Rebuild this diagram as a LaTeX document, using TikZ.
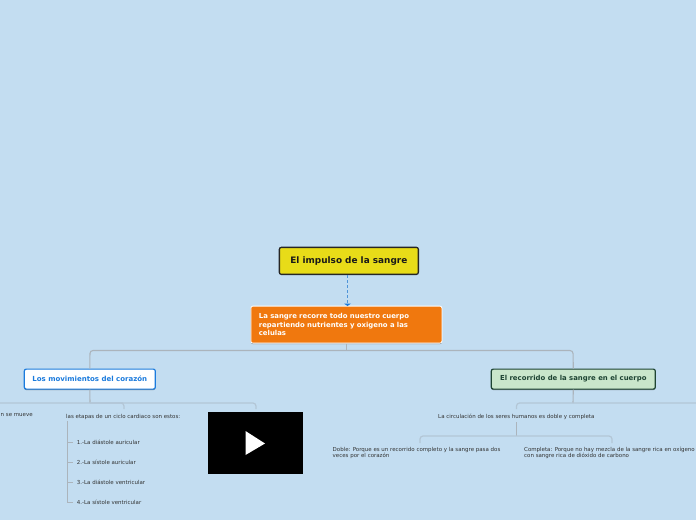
\documentclass[tikz,border=0pt]{standalone}
\usepackage{fontspec}
\setmainfont{DejaVu Sans}
\usetikzlibrary{shadows}
\definecolor{bgc}{HTML}{C3DDF1}
\definecolor{yel}{HTML}{E8DC18}
\definecolor{ora}{HTML}{F0780E}
\definecolor{blu}{HTML}{1B7BDD}
\definecolor{dashblue}{HTML}{4F94D8}
\definecolor{gre}{HTML}{C9E6CB}
\definecolor{dgre}{HTML}{1E4433}
\definecolor{lin}{HTML}{ABB4BC}
\definecolor{lin2}{HTML}{B3C6D6}
\definecolor{txt}{HTML}{333333}
\tikzset{
  box/.style={rounded corners=2pt,inner sep=0pt,anchor=north west,align=center},
  soft/.style={drop shadow={shadow xshift=0pt,shadow yshift=-1pt,opacity=.4,fill=black}},
  rootbox/.style={box,draw=black!85,line width=1.3pt,fill=yel,font=\fontsize{8.9}{10}\selectfont\bfseries,text=black!90},
  mainbox/.style={box,draw=white,line width=.8pt,fill=ora,soft,font=\fontsize{6.9}{8.6}\selectfont\bfseries,text=white},
  leftbox/.style={box,draw=blu,line width=1.2pt,fill=white,soft,font=\fontsize{7}{8}\selectfont\bfseries,text=blu},
  rightbox/.style={box,draw=dgre,line width=1.2pt,fill=gre,soft,font=\fontsize{6.9}{8}\selectfont\bfseries,text=dgre},
  small/.style={inner sep=0pt,anchor=west,align=left,text=txt,font=\fontsize{5.48}{6.2}\selectfont},
  thick link/.style={draw=lin,line width=1.1pt,rounded corners=3pt},
  soft link/.style={draw=lin2,line width=1.2pt,rounded corners=3pt},
  list link/.style={draw=lin,line width=.7pt},
  tick link/.style={draw=lin,line width=.5pt}
}
\begin{document}
\begin{tikzpicture}[x=1pt,y=-1pt]
\useasboundingbox (0,0) rectangle (696,520);
\fill[bgc] (0,0) rectangle (696,520);
% junctions
\coordinate (j0) at (346.5,350.5);
\coordinate (jl) at (90,403);
\coordinate (jr) at (573,403);
\coordinate (jc) at (516.5,436);
\coordinate (offl) at (0,403);
\coordinate (offr) at (696,403);
% nodes
\node[rootbox,minimum width=139pt,minimum height=27pt] (root) at (278.7,246.7) {\raisebox{-1.6pt}{El impulso de la sangre}};
\node[mainbox,minimum width=191pt,minimum height=37pt,align=left,text width=175pt] (main) at (250.5,305.7) {La sangre recorre todo nuestro cuerpo\\repartiendo nutrientes y oxigeno a las\\celulas};
\node[leftbox,minimum width=131pt,minimum height=20pt] (left) at (23.7,368.5) {Los movimientos del corazón};
\node[rightbox,minimum width=164pt,minimum height=20pt] (right) at (490.7,368.5) {El recorrido de la sangre en el cuerpo};
\node[small] (tclip) at (0.5,414.7) {n se mueve};
\node[small] (tet) at (66,416.6) {las etapas de un ciclo cardiaco son estos:};
\node[small] (t1) at (76.7,442) {1.-La diástole auricular};
\node[small] (t2) at (76.7,462) {2.-La sístole auricular};
\node[small] (t3) at (76.7,482) {3.-La diástole ventricular};
\node[small] (t4) at (76.7,502) {4.-La sístole ventricular};
\node[small] (tcirc) at (438,416.6) {La circulación de los seres humanos es doble y completa};
\node[small] (tdob) at (332.5,453.2) {Doble: Porque es un recorrido completo y la sangre pasa dos\\veces por el corazón};
\node[small] (tcom) at (524,452.5) {Completa: Porque no hay mezcla de la sangre rica en oxígeno\\con sangre rica de dióxido de carbono};
\node[anchor=north west,fill=black,inner sep=0pt,minimum width=95pt,minimum height=62pt] (vid) at (208,412) {};
\fill[white] (245.5,431) -- (265,443.5) -- (245.5,455) -- cycle;
% connectors
\draw[dashblue,line width=1pt,dash pattern=on 3pt off 2pt] (root.south -| 347.5,0) -- (347.5,304);
\fill[blu] (344,303.5) -- (351,303.5) -- (347.5,306) -- cycle;
\draw[lin,line width=.8pt] (main.south -| j0) -- (j0);
\draw[thick link] (left.north) -- (90,350.5) -- (j0) -- (573,350.5) -- (right.north);
\draw[thick link] (left.south) -- (jl);
\draw[soft link] (offl) -- (120,403) [rounded corners=3pt] -- (124,403) -- (124,409);
\draw[soft link] (jl) -- (256,403) -- (256,409);
\draw[thick link] (right.south) -- (jr);
\draw[soft link] (516.5,409) -- (516.5,403) -- (offr);
\draw[lin,line width=.7pt] (516.5,422) -- (jc);
\draw[soft link] (420,443) -- (420,436) -- (612,436) -- (612,443);
\draw[list link] (67,421) -- (67,501.5);
\draw[tick link] (67,442) -- (t1.west -| 73,0);
\draw[tick link] (67,462) -- (t2.west -| 73,0);
\draw[tick link] (67,482) -- (t3.west -| 73,0);
\draw[tick link] (67,502) -- (t4.west -| 73,0);
\end{tikzpicture}
\end{document}
